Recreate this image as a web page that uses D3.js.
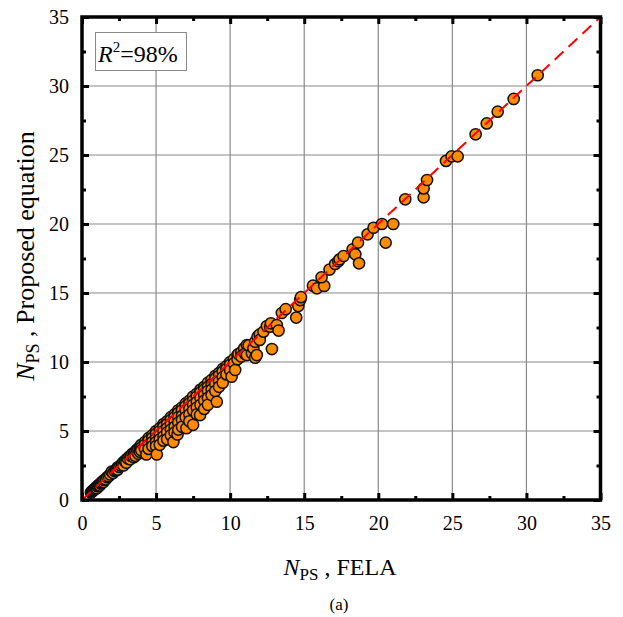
<!DOCTYPE html>
<html><head><meta charset="utf-8">
<script src="https://cdn.jsdelivr.net/npm/d3@7"></script>
<style>
html,body{margin:0;padding:0;background:#fff;}
svg text{font-family:"Liberation Serif",serif !important;}
</style></head>
<body><svg id="c" width="623" height="617"></svg>
<script>
// ---- data ----
const xTicks = [0, 5, 10, 15, 20, 25, 30, 35];
const yTicks = [0, 5, 10, 15, 20, 25, 30, 35];
const minorTicks = [2.5, 7.5, 12.5, 17.5, 22.5, 27.5, 32.5];
const r2Label = "98%";
// FELA values (x) and proposed-equation values (y)
const points = [
[0.6,0.55],[0.65,0.6],[0.7,0.62],[0.75,0.7],[0.8,0.72],[0.85,0.8],[0.9,0.82],[0.95,0.9],[1.0,0.92],[1.0,0.85],
[1.05,1.0],[1.1,1.02],[1.15,1.1],[1.2,1.12],[1.2,1.05],[1.25,1.2],[1.3,1.22],[1.35,1.3],[1.4,1.35],[1.45,1.3],
[1.5,1.45],[1.6,1.5],[1.7,1.65],[1.8,1.72],[1.9,1.85],[2.0,2.05],[2.1,1.95],[2.2,2.1],[2.3,2.15],[2.4,2.35],
[2.4,2.2],[2.5,2.4],[2.6,2.5],[2.7,2.6],[2.8,2.75],[2.8,2.5],[2.9,2.8],[3.0,2.95],[3.0,2.7],[3.1,3.0],
[3.2,3.15],[3.25,2.95],[3.3,3.2],[3.4,3.35],[3.5,3.4],[3.5,3.1],[3.6,3.5],[3.6,3.2],[3.7,3.65],[3.8,3.7],
[3.8,3.35],[3.9,3.85],[3.9,3.5],[4.0,4.0],[4.0,3.8],[4.0,3.6],[4.25,4.2],[4.25,4.0],[4.25,3.7],[4.35,3.3],
[4.5,4.5],[4.5,4.3],[4.5,4.0],[4.5,3.7],[4.75,4.7],[4.75,4.5],[4.75,4.2],[4.75,3.9],[5.0,5.0],[5.0,4.8],
[5.0,4.5],[5.0,4.2],[5.0,3.9],[5.05,3.3],[5.25,5.2],[5.25,5.0],[5.25,4.7],[5.25,4.4],[5.25,4.0],[5.5,5.5],
[5.5,5.3],[5.5,5.0],[5.5,4.6],[5.5,4.3],[5.75,5.7],[5.75,5.5],[5.75,5.2],[5.75,4.9],[5.75,4.4],[6.0,6.0],
[6.0,5.8],[6.0,5.5],[6.0,5.1],[6.0,4.7],[6.17,4.2],[6.25,6.2],[6.25,6.0],[6.25,5.7],[6.25,5.3],[6.25,4.9],
[6.45,4.75],[6.5,6.5],[6.5,6.3],[6.5,6.0],[6.5,5.6],[6.5,5.1],[6.75,6.7],[6.75,6.5],[6.75,6.1],[6.75,5.8],
[6.75,5.3],[7.0,7.0],[7.0,6.8],[7.0,6.5],[7.0,6.0],[7.05,5.2],[7.25,7.2],[7.25,7.0],[7.25,6.6],[7.25,6.2],
[7.25,5.7],[7.5,7.5],[7.5,7.2],[7.5,6.9],[7.5,6.5],[7.5,5.45],[7.75,7.7],[7.75,7.5],[7.75,7.1],[7.75,6.7],
[7.75,6.2],[8.0,8.0],[8.0,7.8],[8.0,7.4],[8.0,6.9],[7.97,6.15],[8.25,8.2],[8.25,8.0],[8.25,7.6],[8.25,7.2],
[8.25,6.6],[8.5,8.5],[8.5,8.2],[8.5,7.9],[8.5,7.4],[8.5,6.9],[8.75,8.7],[8.75,8.4],[8.75,8.0],[8.75,7.6],
[9.0,9.0],[9.0,8.8],[9.0,8.4],[9.0,7.9],[9.1,7.12],[9.25,9.2],[9.25,9.0],[9.25,8.6],[9.25,8.2],[9.5,9.5],
[9.5,9.3],[9.5,8.9],[9.5,8.5],[9.75,9.7],[9.75,9.5],[9.75,9.1],[10.0,10.0],[10.0,9.8],[10.0,9.4],[10.1,8.93],
[10.25,10.2],[10.25,9.9],[10.34,9.42],[10.5,10.5],[10.5,10.2],[10.56,10.58],[10.75,10.7],[10.75,10.4],[10.95,10.99],[11.0,10.6],
[11.13,11.23],[11.13,10.5],[11.25,11.2],[11.47,10.63],[11.57,10.99],[11.69,11.47],[11.69,10.31],[11.8,10.5],[11.85,11.83],[12.0,12.0],
[12.0,11.6],[12.25,12.2],[12.48,12.61],[12.7,12.56],[12.75,12.8],[12.82,10.94],[13.15,12.68],[13.27,12.28],[13.49,13.55],[13.75,13.83],
[14.46,13.22],[14.6,14.05],[14.73,14.49],[14.78,14.7],[15.59,15.53],[15.86,15.34],[16.35,15.51],[16.17,16.14],[16.71,16.7],[17.09,17.1],
[17.3,17.3],[17.39,17.44],[17.66,17.68],[18.27,18.17],[18.45,17.8],[18.7,17.15],[18.63,18.65],[19.28,19.25],[19.68,19.73],[20.25,20.0],
[20.5,18.65],[21.01,20.0],[21.82,21.79],[23.06,21.93],[23.06,22.58],[23.29,23.19],[24.57,24.57],[24.95,24.9],[25.36,24.9],[26.57,26.5],
[27.32,27.29],[28.06,28.14],[29.14,29.06],[30.76,30.78]
];
const lineData = [[0,0],[35,35]];

// ---- layout ----
const svg = d3.select("#c");
const L = 82, R = 600.5, T = 17, B = 500;
const x = d3.scaleLinear().domain([0,35]).range([L,R]);
const y = d3.scaleLinear().domain([0,35]).range([B,T]);

// grid
const g = svg.append("g");
g.selectAll(".gx").data(xTicks.slice(1,-1)).join("line")
  .attr("x1",d=>x(d)).attr("x2",d=>x(d)).attr("y1",T).attr("y2",B)
  .attr("stroke","#8a8a8a").attr("stroke-width",1.2);
g.selectAll(".gy").data(yTicks.slice(1,-1)).join("line")
  .attr("y1",d=>y(d)).attr("y2",d=>y(d)).attr("x1",L).attr("x2",R)
  .attr("stroke","#8a8a8a").attr("stroke-width",1.2);

// points
svg.append("g").selectAll("circle").data(points).join("circle")
  .attr("cx",d=>x(d[0])).attr("cy",d=>y(d[1])).attr("r",5.6)
  .attr("fill","#ff8c00").attr("stroke","#111").attr("stroke-width",1.5);

// 1:1 dashed line
svg.append("path").datum(lineData)
  .attr("d", d3.line().x(d=>x(d[0])).y(d=>y(d[1])))
  .attr("stroke","#ff0000").attr("stroke-width",2).attr("fill","none")
  .attr("stroke-dasharray","12,7");

// axes with inward ticks
const fmt = d3.format("d");
function ax(gen, tr){
  const a = svg.append("g").attr("transform",tr).call(gen);
  a.attr("font-family",null).attr("font-size",null);
  a.select(".domain").remove();
  a.selectAll("line").attr("stroke","#000").attr("stroke-width",3);
  return a;
}
const axBottom = ax(d3.axisBottom(x).tickValues(xTicks).tickSizeInner(-7).tickSizeOuter(0).tickPadding(16).tickFormat(fmt), `translate(0,${B})`);
axBottom.selectAll("text").attr("font-size",20).attr("fill","#000");
const axLeft = ax(d3.axisLeft(y).tickValues(yTicks).tickSizeInner(-7).tickSizeOuter(0).tickPadding(13).tickFormat(fmt), `translate(${L},0)`);
axLeft.selectAll("text").attr("font-size",20).attr("fill","#000");
ax(d3.axisTop(x).tickValues(xTicks).tickSizeInner(-7).tickSizeOuter(0).tickFormat(""), `translate(0,${T})`);
ax(d3.axisRight(y).tickValues(yTicks).tickSizeInner(-7).tickSizeOuter(0).tickFormat(""), `translate(${R},0)`);
// minor ticks
ax(d3.axisBottom(x).tickValues(minorTicks).tickSizeInner(-4).tickSizeOuter(0).tickFormat(""), `translate(0,${B})`);
ax(d3.axisTop(x).tickValues(minorTicks).tickSizeInner(-4).tickSizeOuter(0).tickFormat(""), `translate(0,${T})`);
ax(d3.axisLeft(y).tickValues(minorTicks).tickSizeInner(-4).tickSizeOuter(0).tickFormat(""), `translate(${L},0)`);
ax(d3.axisRight(y).tickValues(minorTicks).tickSizeInner(-4).tickSizeOuter(0).tickFormat(""), `translate(${R},0)`);

// frame
svg.append("rect").attr("x",L).attr("y",T).attr("width",R-L).attr("height",B-T)
  .attr("fill","none").attr("stroke","#000").attr("stroke-width",3.5);

// R2 box
svg.append("rect").attr("x",95.5).attr("y",32.5).attr("width",91).attr("height",38)
  .attr("fill","#fff").attr("stroke","#8a8a8a").attr("stroke-width",1);
const rt = svg.append("text").attr("x",98).attr("y",62).attr("font-size",24).attr("fill","#000");
rt.append("tspan").attr("font-style","italic").text("R");
rt.append("tspan").attr("font-size",15).attr("dy",-10).text("2");
rt.append("tspan").attr("dy",10).text("=" + r2Label);

// x title
const xt = svg.append("text").attr("x",340).attr("y",575).attr("text-anchor","middle").attr("font-size",24).attr("fill","#000");
xt.append("tspan").attr("font-style","italic").text("N");
xt.append("tspan").attr("font-size",17).attr("dy",5).text("PS");
xt.append("tspan").attr("dy",-5).text(" , FELA");

// y title
const yt = svg.append("text").attr("transform","translate(34,256) rotate(-90)").attr("text-anchor","middle").attr("font-size",26).attr("fill","#000");
yt.append("tspan").attr("font-style","italic").text("N");
yt.append("tspan").attr("font-size",18).attr("dy",5).text("PS");
yt.append("tspan").attr("dy",-5).text(" , Proposed equation");

// caption
svg.append("text").attr("x",339).attr("y",610).attr("text-anchor","middle").attr("font-size",17).attr("fill","#000").text("(a)");
</script></body></html>
